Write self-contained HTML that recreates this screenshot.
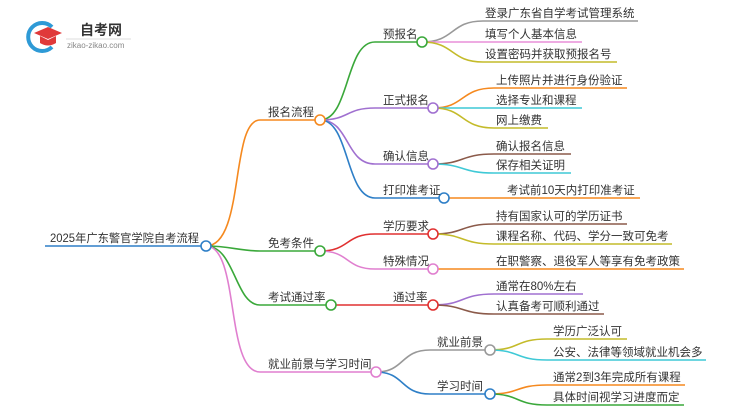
<!DOCTYPE html>
<html><head><meta charset="utf-8"><style>
html,body{margin:0;padding:0;background:#fff;}
svg text{font-family:"Liberation Sans","Noto Sans CJK SC",sans-serif;font-size:11.5px;fill:#333;}
</style></head><body>
<svg width="750" height="410" viewBox="0 0 750 410" xmlns="http://www.w3.org/2000/svg">
<g fill="none" stroke-width="1.6">
<path d="M45 246 H206" stroke="#2e7fc7"/>
<path d="M206 246 C245 246,230 120,260 120 H320" stroke="#f5891f"/>
<path d="M206 246 C230 246,240 251,260 251 H320" stroke="#3aa83a"/>
<path d="M206 246 C235 246,235 305,260 305 H331" stroke="#3aa83a"/>
<path d="M206 246 C240 246,225 372,260 372 H376" stroke="#e07fcf"/>
<path d="M320 120 C350 120,345 42,375 42 H422" stroke="#3aa83a"/>
<path d="M320 120 C350 120,345 108,375 108 H433" stroke="#a070d0"/>
<path d="M320 120 C350 120,345 164,375 164 H433" stroke="#a070d0"/>
<path d="M320 120 C350 120,345 198,375 198 H444" stroke="#2e7fc7"/>
<path d="M422 42 C455 42,450 21,483 21 H638" stroke="#999"/>
<path d="M422 42 H582" stroke="#e88fd8"/>
<path d="M422 42 C455 42,450 62,483 62 H617" stroke="#c4bb2a"/>
<path d="M433 108 C465 108,460 88,494 88 H627" stroke="#f5891f"/>
<path d="M433 108 H582" stroke="#3fc9d6"/>
<path d="M433 108 C465 108,460 128,494 128 H548" stroke="#c4bb2a"/>
<path d="M433 164 C465 164,460 154,494 154 H571" stroke="#8b5a4a"/>
<path d="M433 164 C465 164,460 173,494 173 H571" stroke="#3fc9d6"/>
<path d="M444 198 H640" stroke="#f5891f"/>
<path d="M320 251 C350 251,345 234,375 234 H433" stroke="#e03030"/>
<path d="M320 251 C350 251,345 269,375 269 H433" stroke="#e07fcf"/>
<path d="M433 234 C465 234,460 224,494 224 H627" stroke="#8b5a4a"/>
<path d="M433 234 C465 234,460 244,494 244 H672" stroke="#c4bb2a"/>
<path d="M433 269 H684" stroke="#f5891f"/>
<path d="M331 305 H433" stroke="#e03030"/>
<path d="M433 305 C465 305,460 294,494 294 H583" stroke="#a070d0"/>
<path d="M433 305 C465 305,460 314,494 314 H604" stroke="#8b5a4a"/>
<path d="M376 372 C405 372,400 350,430 350 H490" stroke="#999"/>
<path d="M376 372 C405 372,400 394,430 394 H490" stroke="#2e7fc7"/>
<path d="M490 350 C520 350,515 339,547 339 H627" stroke="#c4bb2a"/>
<path d="M490 350 C520 350,515 360,547 360 H706" stroke="#3fc9d6"/>
<path d="M490 394 C520 394,515 385,547 385 H685" stroke="#f5891f"/>
<path d="M490 394 C520 394,515 405,547 405 H684" stroke="#3aa83a"/>
</g>
<g fill="#fff" stroke-width="1.6">
<circle cx="206" cy="246" r="5" stroke="#2e7fc7"/>
<circle cx="320" cy="120" r="5" stroke="#f5891f"/>
<circle cx="320" cy="251" r="5" stroke="#3aa83a"/>
<circle cx="331" cy="305" r="5" stroke="#3aa83a"/>
<circle cx="376" cy="372" r="5" stroke="#e07fcf"/>
<circle cx="422" cy="42" r="5" stroke="#3aa83a"/>
<circle cx="433" cy="108" r="5" stroke="#a070d0"/>
<circle cx="433" cy="164" r="5" stroke="#a070d0"/>
<circle cx="444" cy="198" r="5" stroke="#2e7fc7"/>
<circle cx="433" cy="234" r="5" stroke="#e03030"/>
<circle cx="433" cy="269" r="5" stroke="#e07fcf"/>
<circle cx="433" cy="305" r="5" stroke="#e03030"/>
<circle cx="490" cy="350" r="5" stroke="#999"/>
<circle cx="490" cy="394" r="5" stroke="#2e7fc7"/>
</g>
<path d="M52 27 A14 14 0 1 0 52 47" fill="none" stroke="#2e9ad6" stroke-width="4"/>
<polygon points="34,33 48,27 62,33 48,39" fill="#e0393a"/>
<path d="M40 36 V43 Q48 48 56 43 V36 L48 40 Z" fill="#e0393a"/>
<text x="80" y="35" style="font-size:14px;font-weight:bold;fill:#333">自考网</text>
<line x1="66" y1="39" x2="131" y2="39" stroke="#ddd" stroke-width="1"/>
<text x="67" y="48" style="font-size:8px;fill:#888">zikao-zikao.com</text>
<text x="50" y="242" textLength="149" lengthAdjust="spacingAndGlyphs">2025年广东警官学院自考流程</text>
<text x="268" y="116">报名流程</text>
<text x="268" y="247">免考条件</text>
<text x="268" y="301">考试通过率</text>
<text x="268" y="368">就业前景与学习时间</text>
<text x="383" y="38">预报名</text>
<text x="383" y="104">正式报名</text>
<text x="383" y="160">确认信息</text>
<text x="383" y="194">打印准考证</text>
<text x="383" y="230">学历要求</text>
<text x="383" y="265">特殊情况</text>
<text x="393" y="301">通过率</text>
<text x="437" y="346">就业前景</text>
<text x="437" y="390">学习时间</text>
<text x="485" y="17">登录广东省自学考试管理系统</text>
<text x="485" y="38">填写个人基本信息</text>
<text x="485" y="58">设置密码并获取预报名号</text>
<text x="496" y="84">上传照片并进行身份验证</text>
<text x="496" y="104">选择专业和课程</text>
<text x="496" y="124">网上缴费</text>
<text x="496" y="150">确认报名信息</text>
<text x="496" y="169">保存相关证明</text>
<text x="507" y="194">考试前10天内打印准考证</text>
<text x="496" y="220">持有国家认可的学历证书</text>
<text x="496" y="240">课程名称、代码、学分一致可免考</text>
<text x="496" y="265">在职警察、退役军人等享有免考政策</text>
<text x="496" y="290">通常在80%左右</text>
<text x="496" y="310">认真备考可顺利通过</text>
<text x="553" y="335">学历广泛认可</text>
<text x="553" y="356">公安、法律等领域就业机会多</text>
<text x="553" y="381">通常2到3年完成所有课程</text>
<text x="553" y="401">具体时间视学习进度而定</text>
</svg>
</body></html>
